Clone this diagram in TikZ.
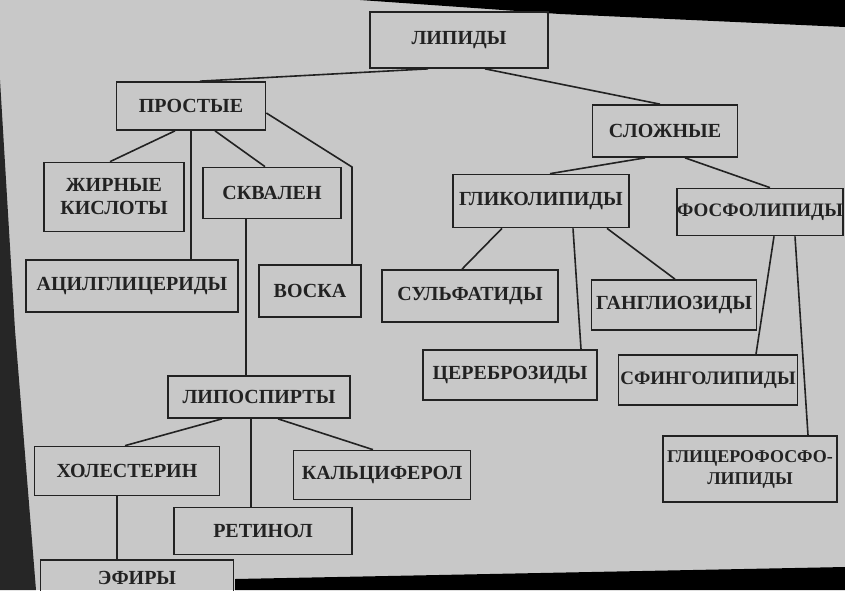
\documentclass[tikz,border=0pt]{standalone}
\usepackage{fontspec}
\setmainfont{Liberation Serif}
\usetikzlibrary{calc}
\definecolor{paper}{RGB}{200,200,200}
\definecolor{ink}{RGB}{34,34,34}

\begin{document}
\begin{tikzpicture}[x=1pt, y=-1pt,
		box/.style={draw=ink, line width=1.7pt, inner sep=0pt, align=center, text=ink, font=\bfseries\fontsize{20}{23}\selectfont},
		tightbox/.style={box, font=\bfseries\fontsize{19}{22}\selectfont},
		link/.style={draw=ink, line width=1.6pt}]
			%%%%% START %%%%%
			
			\fill[paper] (0, 0) rectangle (845, 590);
			\useasboundingbox (0, 0) rectangle (845, 590);
			
			% edges of the photo
			\fill[black!85] (0, 80) -- (15, 330) -- (36, 590) -- (0, 590) -- cycle;
			\fill[black] (360, 0) -- (560, 14) -- (845, 27) -- (845, 0) -- cycle;
			\fill[black] (235, 579) -- (845, 567) -- (845, 590) -- (235, 590) -- cycle;
			
			\node[box, minimum width=178pt, minimum height=56pt] (lipid) at (459, 40) {ЛИПИДЫ};
			
			\node[box, minimum width=149pt, minimum height=48pt] (prost) at (191, 106) {ПРОСТЫЕ};
			\node[box, minimum width=145pt, minimum height=52pt] (slozh) at (665, 131) {СЛОЖНЫЕ};
			
			\node[box, minimum width=140pt, minimum height=69pt] (zhir) at (114, 197) {ЖИРНЫЕ\\КИСЛОТЫ};
			\node[box, minimum width=138pt, minimum height=51pt] (skval) at (272, 193) {СКВАЛЕН};
			\node[box, minimum width=212pt, minimum height=52pt] (acil) at (132, 286) {АЦИЛГЛИЦЕРИДЫ};
			\node[box, minimum width=102pt, minimum height=52pt] (vosk) at (310, 291) {ВОСКА};
			
			\node[box, minimum width=182pt, minimum height=42pt] (lipo) at (259, 397) {ЛИПОСПИРТЫ};
			\node[box, minimum width=185pt, minimum height=49pt] (holest) at (127, 471) {ХОЛЕСТЕРИН};
			\node[box, minimum width=177pt, minimum height=49pt] (kalc) at (382, 475) {КАЛЬЦИФЕРОЛ};
			\node[box, minimum width=178pt, minimum height=47pt] (retin) at (263, 531) {РЕТИНОЛ};
			\node[box, minimum width=193pt, minimum height=36pt] (efir) at (137, 578) {ЭФИРЫ};
			
			\node[box, minimum width=176pt, minimum height=53pt] (glik) at (541, 201) {ГЛИКОЛИПИДЫ};
			\node[tightbox, minimum width=164pt, minimum height=47pt] (fosf) at (760, 212) {ФОСФОЛИПИДЫ};
			\node[box, minimum width=176pt, minimum height=52pt] (sulf) at (470, 296) {СУЛЬФАТИДЫ};
			\node[box, minimum width=165pt, minimum height=50pt] (gangl) at (674, 305) {ГАНГЛИОЗИДЫ};
			\node[box, minimum width=174pt, minimum height=50pt] (cereb) at (510, 375) {ЦЕРЕБРОЗИДЫ};
			\node[tightbox, minimum width=179pt, minimum height=50pt] (sfing) at (708, 380) {СФИНГОЛИПИДЫ};
			\node[tightbox, font=\bfseries\fontsize{18}{22}\selectfont, minimum width=174pt, minimum height=66pt] (glicer) at (750, 469) {ГЛИЦЕРОФОСФО-\\ЛИПИДЫ};
			
			% top level
			\draw[link] ([xshift=-31pt]lipid.south) -- ([xshift=9pt]prost.north);
			\draw[link] ([xshift=26pt]lipid.south) -- ([xshift=-5pt]slozh.north);
			
			% simple lipids
			\draw[link] ([xshift=-16pt]prost.south) -- ([xshift=-4pt]zhir.north);
			\draw[link] (prost.south) -- (prost.south |- acil.north);
			\draw[link] ([xshift=24pt]prost.south) -- ([xshift=-7pt]skval.north);
			\coordinate (vk) at (352, 167);
			\draw[link] ([yshift=-7pt]prost.east) -- (vk) -- (vk |- vosk.north);
			
			\coordinate (sk) at ([xshift=-26pt]skval.south);
			\draw[link] (sk) -- (sk |- lipo.north);
			
			\draw[link] ([xshift=-37pt]lipo.south) -- ([xshift=-2pt]holest.north);
			\coordinate (lr) at ([xshift=-8pt]lipo.south);
			\draw[link] (lr) -- (lr |- retin.north);
			\draw[link] ([xshift=19pt]lipo.south) -- ([xshift=-9pt]kalc.north);
			\coordinate (he) at ([xshift=-10pt]holest.south);
			\draw[link] (he) -- (he |- efir.north);
			
			% complex lipids
			\draw[link] ([xshift=-20pt]slozh.south) -- ([xshift=9pt]glik.north);
			\draw[link] ([xshift=20pt]slozh.south) -- ([xshift=10pt]fosf.north);
			
			\draw[link] ([xshift=-39pt]glik.south) -- ([xshift=-8pt]sulf.north);
			\draw[link] ([xshift=32pt]glik.south) -- ([xshift=71pt]cereb.north);
			\draw[link] ([xshift=66pt]glik.south) -- ([xshift=1pt]gangl.north);
			
			\draw[link] ([xshift=14pt]fosf.south) -- ([xshift=48pt]sfing.north);
			\draw[link] ([xshift=35pt]fosf.south) -- ([xshift=58pt]glicer.north);
			
			%%%%% END %%%%%
\end{tikzpicture}
\end{document}
